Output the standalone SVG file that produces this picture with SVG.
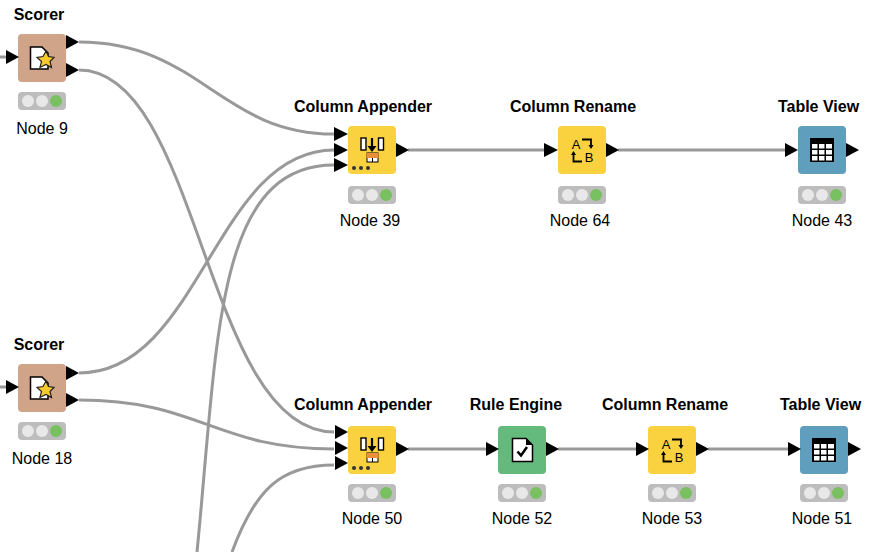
<svg xmlns="http://www.w3.org/2000/svg" width="894" height="552" viewBox="0 0 894 552">
<style>
text{font-family:"Liberation Sans",Arial,sans-serif;font-size:16px;fill:#000;text-anchor:middle}
.t{font-weight:bold}
.c{fill:none;stroke:#999;stroke-width:3}
.l{fill:#e8e8e8}
.i{fill:none;stroke:#000;stroke-width:1.800}
text.g{font-size:13px}
</style>
<defs>
<polygon id="pi" points="0,-7 13,0 0,7" fill="#000"/>
<polygon id="pj" points="0,-7 14,0 0,7" fill="#000"/>
<g id="st"><rect x="0" y="58" width="48" height="18" rx="4" fill="#bdbdbd"/><circle cx="10" cy="67" r="6" class="l"/><circle cx="24" cy="67" r="6" class="l"/><circle cx="38" cy="67" r="6" fill="#78c060"/></g>
<g id="ca"><rect width="48" height="48" rx="4" fill="#fad23f"/>
<rect x="13" y="12" width="5" height="12" fill="#fff" stroke="#000" stroke-width="1.400"/><rect x="30.500" y="12" width="5" height="12" fill="#fff" stroke="#000" stroke-width="1.400"/>
<path d="M24 12V21" stroke="#000" stroke-width="2.200"/><polygon points="19.500,20 28.500,20 24,26" fill="#000"/>
<rect x="19" y="27" width="11" height="9" fill="#fff" stroke="#000"/><rect x="18.500" y="27" width="12" height="5" fill="#ea8f3c"/><path d="M24.500 32V36" stroke="#000"/>
<g fill="#333"><circle cx="6" cy="42" r="2"/><circle cx="13" cy="42" r="2"/><circle cx="20" cy="42" r="2"/></g></g>
<g id="rn"><rect width="48" height="48" rx="4" fill="#fad23f"/>
<text class="g" x="18" y="23">A</text><text class="g" x="31" y="36">B</text>
<path class="i" d="M24 13.500H33V20"/><path d="M30.500 19H35.500L33 23Z"/>
<path class="i" d="M24 35.500H15.500V28"/><path d="M13 29H18L15.500 25Z"/></g>
<g id="tv"><rect width="48" height="48" rx="4" fill="#5f9fbd"/><rect x="12" y="12" width="24" height="24" fill="#000"/>
<g fill="#fff"><rect x="14" y="18" width="5.500" height="4.500"/><rect x="21" y="18" width="5.500" height="4.500"/><rect x="28" y="18" width="6" height="4.500"/><rect x="14" y="24" width="5.500" height="4.500"/><rect x="21" y="24" width="5.500" height="4.500"/><rect x="28" y="24" width="6" height="4.500"/><rect x="14" y="30" width="5.500" height="4.500"/><rect x="21" y="30" width="5.500" height="4.500"/><rect x="28" y="30" width="6" height="4.500"/></g></g>
<g id="sc"><rect width="48" height="48" rx="4" fill="#cfa488"/>
<path d="M12.500 13H24L30 19V35H12.500Z" fill="#fff" stroke="#000" stroke-width="1.500"/>
<polygon points="28,17 30.500,22.500 36,23.500 32,27.500 33.500,33.500 28,30.500 22,33.500 23.500,27.500 19,23.500 25,22.500" fill="#f6c92c" stroke="#222" stroke-width="1.200"/></g>
<g id="re"><rect width="48" height="48" rx="4" fill="#64b97c"/>
<path d="M14.500 12.500H28L34.500 19V35.500H14.500Z" fill="#fff" stroke="#000" stroke-width="1.500"/><path d="M28 12L35 19H28Z"/>
<path d="M19.500 25.500L23 29.500L29 21" fill="none" stroke="#000" stroke-width="2.500"/></g>
</defs>
<g id="connectors">
<path class="c" d="M0 57H6"/><path class="c" d="M0 387H6"/>
<path class="c" d="M79 42C200 42 220 134 334 134"/>
<path class="c" d="M79 70C200 70 205 432 334 432"/>
<path class="c" d="M79 373C200 373 215 150 334 150"/>
<path class="c" d="M79 400C200 400 215 449 334 449"/>
<path class="c" d="M197 552C218 340 215 165 334 165"/>
<path class="c" d="M232 552C255 490 280 465 334 465"/>
<path class="c" d="M408 150H544"/><path class="c" d="M618 150H785"/>
<path class="c" d="M408 449H486"/><path class="c" d="M558 449H636"/><path class="c" d="M708 449H788"/>
</g>
<g id="node9"><text class="t" x="39" y="20">Scorer</text><use href="#sc" x="18" y="34"/><use href="#pi" x="6" y="57"/><use href="#pi" x="66" y="42"/><use href="#pi" x="66" y="70"/><use href="#st" x="18" y="34"/><text x="42" y="134">Node 9</text></g>
<g id="node18"><text class="t" x="39" y="350">Scorer</text><use href="#sc" x="18" y="364"/><use href="#pi" x="6" y="387"/><use href="#pi" x="66" y="373"/><use href="#pi" x="66" y="400"/><use href="#st" x="18" y="364"/><text x="42" y="464">Node 18</text></g>
<g id="node39"><text class="t" x="363" y="112">Column Appender</text><use href="#ca" x="348" y="126"/><use href="#pj" x="334" y="134"/><use href="#pj" x="334" y="150"/><use href="#pj" x="334" y="165"/><use href="#pi" x="396" y="150"/><use href="#st" x="348" y="128"/><text x="370" y="226">Node 39</text></g>
<g id="node64"><text class="t" x="573" y="112">Column Rename</text><use href="#rn" x="558" y="126"/><use href="#pj" x="544" y="150"/><use href="#pi" x="606" y="150"/><use href="#st" x="558" y="128"/><text x="580" y="226">Node 64</text></g>
<g id="node43"><text class="t" x="818.500" y="112">Table View</text><use href="#tv" x="798" y="126"/><use href="#pi" x="785" y="150"/><use href="#pi" x="846" y="150"/><use href="#st" x="798" y="128"/><text x="822" y="226">Node 43</text></g>
<g id="node50"><text class="t" x="363" y="410">Column Appender</text><use href="#ca" x="348" y="426"/><use href="#pi" x="335" y="432"/><use href="#pi" x="335" y="448"/><use href="#pi" x="335" y="463"/><use href="#pi" x="396" y="449"/><use href="#st" x="348" y="426"/><text x="372" y="524">Node 50</text></g>
<g id="node52"><text class="t" x="516" y="410">Rule Engine</text><use href="#re" x="498" y="426"/><use href="#pi" x="486" y="449"/><use href="#pi" x="546" y="449"/><use href="#st" x="498" y="426"/><text x="522" y="524">Node 52</text></g>
<g id="node53"><text class="t" x="665" y="410">Column Rename</text><use href="#rn" x="648" y="426"/><use href="#pi" x="636" y="449"/><use href="#pi" x="696" y="449"/><use href="#st" x="648" y="426"/><text x="672" y="524">Node 53</text></g>
<g id="node51"><text class="t" x="820.500" y="410">Table View</text><use href="#tv" x="800" y="426"/><use href="#pi" x="788" y="449"/><use href="#pi" x="848" y="449"/><use href="#st" x="800" y="426"/><text x="822" y="524">Node 51</text></g>
</svg>
